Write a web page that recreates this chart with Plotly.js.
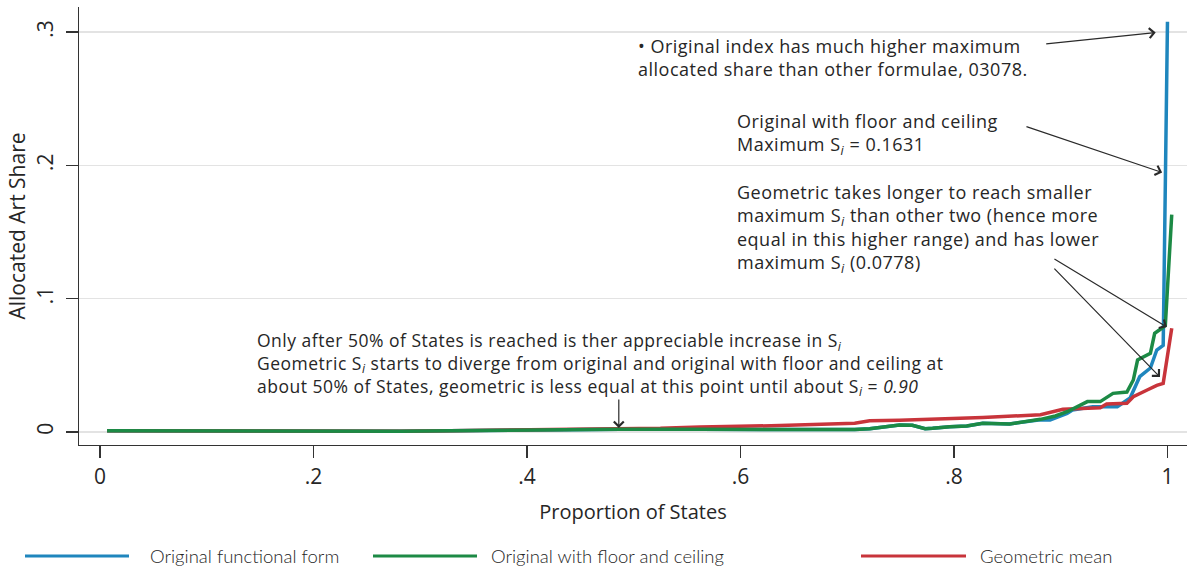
<!DOCTYPE html>
<html>
<head>
<meta charset="utf-8">
<script src="https://cdn.plot.ly/plotly-3.0.1.min.js"></script>
<style>
html,body{margin:0;padding:0;background:#fff;}
#chart{width:1194px;height:571px;}
.annotation[data-index="0"] .annotation-text,
.annotation[data-index="1"] .annotation-text,
.annotation[data-index="2"] .annotation-text,
.annotation[data-index="3"] .annotation-text{letter-spacing:0.5px;}
</style>
</head>
<body>
<div id="chart"></div>
<script>
// ---- data ----
const seriesNames = ["Original functional form", "Original with floor and ceiling", "Geometric mean"];

const xOriginal = [0.0066,0.094,0.2,0.281,0.328,0.419,0.487,0.562,0.637,0.707,0.721,0.735,0.749,0.761,0.773,0.780,0.796,0.812,0.827,0.852,0.866,0.881,0.890,0.906,0.911,0.930,0.953,0.965,0.974,0.984,0.990,0.996,1.0];
const yOriginal = [0.001,0.0008,0.0003,0.0005,0.001,0.0018,0.002,0.002,0.002,0.0018,0.0025,0.004,0.0053,0.005,0.0025,0.0028,0.004,0.0045,0.0065,0.006,0.0075,0.0092,0.009,0.014,0.0165,0.019,0.019,0.0255,0.0415,0.048,0.0615,0.065,0.3078];

const xFloor = [0.0066,0.094,0.2,0.281,0.328,0.419,0.487,0.562,0.637,0.707,0.721,0.735,0.749,0.761,0.773,0.780,0.796,0.812,0.827,0.852,0.866,0.881,0.895,0.906,0.925,0.937,0.949,0.962,0.968,0.972,0.984,0.988,0.995,0.998,1.004];
const yFloor = [0.001,0.0008,0.0003,0.0005,0.001,0.0018,0.002,0.002,0.002,0.0018,0.0025,0.004,0.0053,0.005,0.0025,0.0028,0.004,0.0045,0.0065,0.006,0.0075,0.0095,0.012,0.0152,0.0228,0.0228,0.029,0.030,0.039,0.054,0.059,0.074,0.078,0.08,0.1631];

const xGeo = [0.0066,0.094,0.2,0.281,0.328,0.419,0.487,0.525,0.562,0.637,0.707,0.721,0.749,0.787,0.827,0.881,0.902,0.937,0.943,0.962,0.968,0.981,0.990,0.996,1.004];
const yGeo = [0.001,0.0008,0.0003,0.0005,0.001,0.0018,0.0022,0.0028,0.0038,0.0048,0.0065,0.0085,0.0088,0.0098,0.0108,0.013,0.017,0.0182,0.021,0.0215,0.0265,0.0315,0.035,0.0365,0.0778];

const xTickVals = [0,0.2,0.4,0.6,0.8,1];
const xTickText = ["0",".2",".4",".6",".8","1"];
const yTickVals = [0,0.1,0.2,0.3];
const yTickText = ["0",".1",".2",".3"];

const Si = "S<sub><i>i</i></sub>";
const noteMax = ["• Original index has much higher maximum", "allocated share than other formulae, 03078."];
const noteFloor = ["Original with floor and ceiling", "Maximum " + Si + " = 0.1631"];
const noteGeo = ["Geometric takes longer to reach smaller", "maximum " + Si + " than other two (hence more",
                 "equal in this higher range) and has lower", "maximum " + Si + " (0.0778)"];
const noteHalf = ["Only after 50% of States is reached is ther appreciable increase in " + Si,
                  "Geometric " + Si + " starts to diverge from original and original with floor and ceiling at",
                  "about 50% of States, geometric is less equal at this point until about " + Si + " = <i>0.90</i>"];

// ---- styling ----
const colors = ["#1f86bd","#1c8a45","#c8343b"];
const FONT = "'Open Sans', Lato, sans-serif";
const LFONT = "Lato, 'Open Sans', sans-serif";
const TXT = "#262626";

// plot area geometry in pixels (for paper coordinate helpers)
const W = 1194, H = 571;
const M = {l:79, r:7, t:7, b:126};
const pw = W - M.l - M.r, ph = H - M.t - M.b;
const px = v => (v - M.l) / pw;
const py = v => (H - M.b - v) / ph;

const tOrig = {x:xOriginal, y:yOriginal, name:seriesNames[0], mode:"lines", line:{color:colors[0], width:3.5}};
const tFloor = {x:xFloor, y:yFloor, name:seriesNames[1], mode:"lines", line:{color:colors[1], width:3.5}};
const tGeo = {x:xGeo, y:yGeo, name:seriesNames[2], mode:"lines", line:{color:colors[2], width:3.5}};
const traces = [tOrig, tGeo, tFloor];

const ann = [];
function block(xp, yTop, lines, size) {
  ann.push({xref:"paper", yref:"paper", x:px(xp), y:py(yTop), xanchor:"left", yanchor:"top",
    text:lines.join("<br>"), showarrow:false, align:"left", font:{family:FONT, size:size||18, color:TXT}});
}
function arrow(x0, y0, x1, y1) {
  ann.push({xref:"x", yref:"y", axref:"x", ayref:"y", x:x1, y:y1, ax:x0, ay:y0, text:"",
    showarrow:true, arrowhead:4, arrowsize:1.6, arrowwidth:1.2, arrowcolor:"#2a2a2a", standoff:0, startstandoff:0});
}
block(636, 32, noteMax);
block(735, 107, noteFloor);
block(735, 178, noteGeo);
block(255, 326, noteHalf, 17.5);

arrow(0.885, 0.291, 0.989, 0.2997);
arrow(0.8665, 0.2295, 0.995, 0.1947);
arrow(0.8927, 0.1305, 0.9995, 0.0787);
arrow(0.8927, 0.1237, 0.993, 0.0412);
arrow(0.486, 0.0255, 0.486, 0.003);

// manual legend (long line samples as in the reference)
const legendItems = [
  {x0:25, x1:129, tx:148},
  {x0:373, x1:477, tx:489},
  {x0:861, x1:966, tx:978}
];
const shapes = [];
legendItems.forEach((it, i) => {
  shapes.push({type:"line", xref:"paper", yref:"paper", x0:px(it.x0), x1:px(it.x1), y0:py(556), y1:py(556),
    line:{color:colors[i], width:3}});
  ann.push({xref:"paper", yref:"paper", x:px(it.tx), y:py(556), xanchor:"left", yanchor:"middle",
    text:seriesNames[i], showarrow:false, font:{family:LFONT, size:18.5, color:TXT, weight:300}});
});

const layout = {
  width:W, height:H,
  margin:M,
  paper_bgcolor:"#fff", plot_bgcolor:"#fff",
  showlegend:false,
  font:{family:FONT, color:TXT, size:18},
  xaxis:{
    range:[-0.0197, 1.0183], tickvals:xTickVals, ticktext:xTickText,
    showgrid:false, zeroline:false, showline:true, linecolor:"#333", linewidth:1.3,
    ticks:"outside", ticklen:12, tickwidth:1.3, tickcolor:"#333",
    tickfont:{family:FONT, size:21, color:TXT},
    title:{text:"Proportion of States", font:{family:FONT, size:20, color:TXT}, standoff:16}
  },
  yaxis:{
    range:[-0.00975, 0.3188], tickvals:yTickVals, ticktext:yTickText, tickangle:-90,
    showgrid:true, gridcolor:"#e3e3e3", gridwidth:1.2, zeroline:false,
    showline:true, linecolor:"#333", linewidth:1.3,
    ticks:"outside", ticklen:12, tickwidth:1.3, tickcolor:"#333", ticklabelstandoff:4,
    tickfont:{family:FONT, size:21, color:TXT},
    title:{text:"Allocated Art Share", font:{family:FONT, size:21, color:TXT}, standoff:0}
  },
  annotations:ann,
  shapes:shapes
};

Plotly.newPlot("chart", traces, layout, {displayModeBar:false, staticPlot:true});
</script>
</body>
</html>
